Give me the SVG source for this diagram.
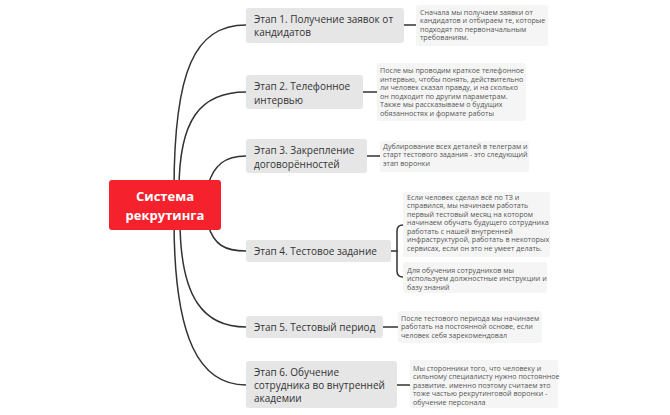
<svg xmlns="http://www.w3.org/2000/svg" width="670" height="415" viewBox="0 0 670 415">
<style>
.bg{fill:#ffffff}
.stage rect{fill:#e6e6e6}
.stage text{font-family:"Open Sans","Noto Sans",sans-serif;font-size:10px;fill:#333333}
.note rect{fill:#f5f5f5}
.note text{font-family:"Open Sans","Noto Sans",sans-serif;font-size:7.15px;fill:#555555}
.conn path{fill:none;stroke:#333333;stroke-width:1.5;stroke-linecap:round}
.root rect{fill:#f5222d}
.root text{font-family:"Open Sans","Noto Sans",sans-serif;font-size:13px;font-weight:bold;fill:#ffffff;text-anchor:middle}
</style>
<rect class="bg" x="0" y="0" width="670" height="415"/>
<g id="connectors" class="conn">
<path d="M174,190 C174,70 195,25 246,25"/>
<path d="M179,190 C179,120 200,92 246,92"/>
<path d="M208,185 C214,165 225,156 246,156"/>
<path d="M208,225 C214,245 225,251 246,251"/>
<path d="M180,220 C180,300 205,327 246,327"/>
<path d="M174,220 C174,340 200,385 246,385"/>
<path d="M404,25 H416"/>
<path d="M363,92 H377"/>
<path d="M367,156 H380"/>
<path d="M391,251 H397"/>
<path d="M403,225 C399,225 397,227 397,231 V271 C397,275 399,277 403,277"/>
<path d="M383,327 H398"/>
<path d="M397,385 H410"/>
</g>
<g id="root" class="root">
<rect x="109" y="180" width="112" height="50" rx="3"/>
<text x="165" y="201">Система</text>
<text x="165" y="219.5">рекрутинга</text>
</g>
<g id="stage1" class="stage">
<rect x="246" y="8" width="158" height="35" rx="3"/>
<text x="254" y="23">Этап 1. Получение заявок от</text>
<text x="254" y="36">кандидатов</text>
</g>
<g id="note1" class="note">
<rect x="416" y="5" width="132" height="41" rx="3"/>
<text x="420" y="14.8">Сначала мы получаем заявки от</text>
<text x="420" y="23.3">кандидатов и отбираем те, которые</text>
<text x="420" y="31.8">подходят по первоначальным</text>
<text x="420" y="40.3">требованиям.</text>
</g>
<g id="stage2" class="stage">
<rect x="246" y="75" width="117" height="34" rx="3"/>
<text x="254" y="90">Этап 2. Телефонное</text>
<text x="254" y="103.5">интервью</text>
</g>
<g id="note2" class="note">
<rect x="377" y="63" width="149" height="58" rx="3"/>
<text x="380" y="73">После мы проводим краткое телефонное</text>
<text x="380" y="81.5">интервью, чтобы понять, действительно</text>
<text x="380" y="90">ли человек сказал правду, и на сколько</text>
<text x="380" y="98.5">он подходит по другим параметрам.</text>
<text x="380" y="107">Также мы рассказываем о будущих</text>
<text x="380" y="115.5">обязанностях и формате работы</text>
</g>
<g id="stage3" class="stage">
<rect x="246" y="139" width="121" height="34" rx="3"/>
<text x="254" y="154">Этап 3. Закрепление</text>
<text x="254" y="167.5">договорённостей</text>
</g>
<g id="note3" class="note">
<rect x="380" y="141" width="149" height="31" rx="3"/>
<text x="383" y="148.5">Дублирование всех деталей в телеграм и</text>
<text x="383" y="157">старт тестового задания - это следующий</text>
<text x="383" y="165.5">этап воронки</text>
</g>
<g id="stage4" class="stage">
<rect x="246" y="240" width="145" height="22" rx="3"/>
<text x="254" y="255">Этап 4. Тестовое задание</text>
</g>
<g id="note4a" class="note">
<rect x="403" y="192" width="147" height="65" rx="3"/>
<text x="407" y="199.8">Если человек сделал всё по ТЗ и</text>
<text x="407" y="208.3">справился, мы начинаем работать</text>
<text x="407" y="216.8">первый тестовый месяц на котором</text>
<text x="407" y="225.3">начинаем обучать будущего сотрудника</text>
<text x="407" y="233.8">работать с нашей внутренней</text>
<text x="407" y="242.3">инфраструктурой, работать в некоторых</text>
<text x="407" y="250.8">сервисах, если он это не умеет делать.</text>
</g>
<g id="note4b" class="note">
<rect x="403" y="262" width="144" height="31" rx="3"/>
<text x="407" y="272.5">Для обучения сотрудников мы</text>
<text x="407" y="281">используем должностные инструкции и</text>
<text x="407" y="289.5">базу знаний</text>
</g>
<g id="stage5" class="stage">
<rect x="246" y="316" width="137" height="22" rx="3"/>
<text x="254" y="330.5">Этап 5. Тестовый период</text>
</g>
<g id="note5" class="note">
<rect x="398" y="311" width="144" height="32" rx="3"/>
<text x="401" y="320.8">После тестового периода мы начинаем</text>
<text x="401" y="329.3">работать на постоянной основе, если</text>
<text x="401" y="337.8">человек себя зарекомендовал</text>
</g>
<g id="stage6" class="stage">
<rect x="246" y="361" width="151" height="47" rx="3"/>
<text x="254" y="376">Этап 6. Обучение</text>
<text x="254" y="389">сотрудника во внутренней</text>
<text x="254" y="402">академии</text>
</g>
<g id="note6" class="note">
<rect x="410" y="360" width="148" height="48" rx="3"/>
<text x="413" y="370.8">Мы сторонники того, что человеку и</text>
<text x="413" y="379.3">сильному специалисту нужно постоянное</text>
<text x="413" y="387.8">развитие. именно поэтому считаем это</text>
<text x="413" y="396.3">тоже частью рекрутинговой воронки -</text>
<text x="413" y="404.8">обучение персонала</text>
</g>
</svg>
